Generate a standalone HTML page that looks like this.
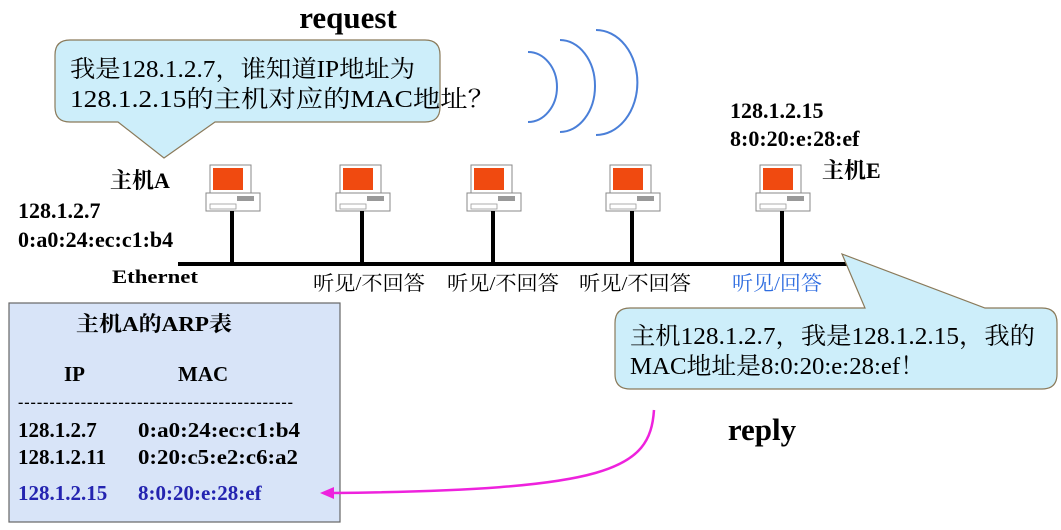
<!DOCTYPE html>
<html><head><meta charset="utf-8"><style>
body{margin:0;background:#fff;}
svg text{font-family:"Liberation Serif","Noto Serif CJK SC",serif;}
</style></head><body>
<svg width="1061" height="525" viewBox="0 0 1061 525" xmlns="http://www.w3.org/2000/svg">
<defs>
<g id="pc">
<rect x="-20" y="-45" width="41" height="28" fill="#fff" stroke="#888" stroke-width="1"/>
<rect x="-17" y="-42" width="30" height="22" fill="#f04a10"/>
<rect x="-24" y="-17" width="54" height="18" fill="#fff" stroke="#888" stroke-width="1"/>
<rect x="7" y="-14" width="17" height="5" fill="#999"/>
<rect x="-20" y="-6" width="26" height="5" fill="none" stroke="#999" stroke-width="0.8"/>
<rect x="0" y="1" width="4" height="54" fill="#000"/>
</g>
</defs>
<text x="348" y="28" font-size="31" font-weight="bold" text-anchor="middle">request</text>
<path d="M70,40 H425 Q440,40 440,55 V107 Q440,122 425,122 H215 L164,158 L118,122 H70 Q55,122 55,107 V55 Q55,40 70,40 Z" fill="#cdeefa" stroke="#8a7a5a" stroke-width="1.2"/>
<text x="70" y="77" font-size="24" textLength="345" lengthAdjust="spacingAndGlyphs">我是128.1.2.7，谁知道IP地址为</text>
<text x="70" y="107" font-size="24" textLength="425" lengthAdjust="spacingAndGlyphs">128.1.2.15的主机对应的MAC地址？</text>
<g fill="none" stroke="#4a7fd8" stroke-width="2">
<path d="M528,52 A29,35 0 0 1 528,122"/>
<path d="M560,40 A35,46 0 0 1 560,132"/>
<path d="M596,30 A41,52 0 0 1 596,135"/>
</g>
<rect x="178" y="262" width="672" height="4" fill="#000"/>
<use href="#pc" x="230" y="210"/>
<use href="#pc" x="360" y="210"/>
<use href="#pc" x="491" y="210"/>
<use href="#pc" x="630" y="210"/>
<use href="#pc" x="780" y="210"/>
<g font-weight="bold" font-size="22">
<text x="110" y="188">主机A</text>
<text x="18" y="218">128.1.2.7</text>
<text x="18" y="247">0:a0:24:ec:c1:b4</text>
<text x="112" y="283" font-size="19" textLength="86" lengthAdjust="spacingAndGlyphs">Ethernet</text>
<text x="730" y="118">128.1.2.15</text>
<text x="730" y="146">8:0:20:e:28:ef</text>
<text x="822" y="178">主机E</text>
</g>
<g font-size="20">
<text x="313" y="290" font-family="Noto Sans CJK SC,sans-serif" textLength="112" lengthAdjust="spacingAndGlyphs">听见/不回答</text>
<text x="447" y="290" font-family="Noto Sans CJK SC,sans-serif" textLength="112" lengthAdjust="spacingAndGlyphs">听见/不回答</text>
<text x="579" y="290" font-family="Noto Sans CJK SC,sans-serif" textLength="112" lengthAdjust="spacingAndGlyphs">听见/不回答</text>
<text x="732" y="290" fill="#2f6de0" font-family="Noto Sans CJK SC,sans-serif" textLength="90" lengthAdjust="spacingAndGlyphs">听见/回答</text>
</g>
<path d="M630,308 H865 L842,254 L985,308 H1042 Q1057,308 1057,323 V374 Q1057,389 1042,389 H630 Q615,389 615,374 V323 Q615,308 630,308 Z" fill="#cdeefa" stroke="#8a7a5a" stroke-width="1.2"/>
<text x="630" y="344" font-size="24" textLength="405" lengthAdjust="spacingAndGlyphs">主机128.1.2.7，我是128.1.2.15，我的</text>
<text x="630" y="374" font-size="24" textLength="295" lengthAdjust="spacingAndGlyphs">MAC地址是8:0:20:e:28:ef！</text>
<text x="762" y="440" font-size="31" font-weight="bold" text-anchor="middle">reply</text>
<rect x="9" y="303" width="331" height="219" fill="#d8e4f8" stroke="#666" stroke-width="1.2"/>
<g font-weight="bold" font-size="21">
<text x="76" y="331" textLength="156" lengthAdjust="spacingAndGlyphs">主机A的ARP表</text>
<text x="64" y="381">IP</text>
<text x="178" y="381">MAC</text>
<text x="18" y="407" font-size="16" textLength="275" lengthAdjust="spacing">--------------------------------------------</text>
<text x="18" y="437">128.1.2.7</text><text x="138" y="437" textLength="162" lengthAdjust="spacingAndGlyphs">0:a0:24:ec:c1:b4</text>
<text x="18" y="464">128.1.2.11</text><text x="138" y="464" textLength="160" lengthAdjust="spacingAndGlyphs">0:20:c5:e2:c6:a2</text>
<text x="18" y="500" fill="#2424b0">128.1.2.15</text><text x="138" y="500" fill="#2424b0">8:0:20:e:28:ef</text>
</g>
<path d="M654,410 C650,470 610,490 332,493" fill="none" stroke="#ee22dd" stroke-width="2.5"/>
<path d="M320,493 L334,487 L334,499 Z" fill="#ee22dd"/>
</svg>
</body></html>
